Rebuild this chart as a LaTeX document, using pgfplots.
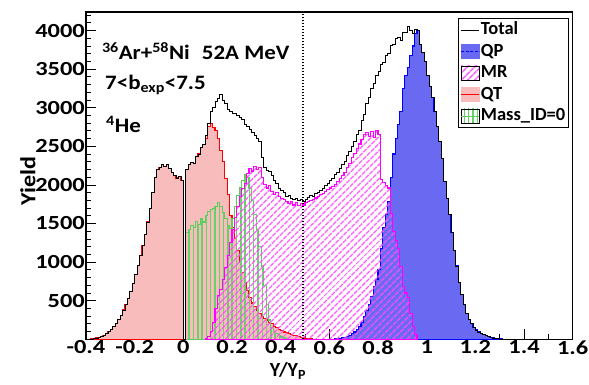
\documentclass[border=0pt]{standalone}
\usepackage{fontspec}
\setmainfont{Carlito}
\newfontfamily\tickfont{Carlito}[FakeStretch=1.22]
\newfontfamily\annfont{Carlito}[FakeStretch=1.12]
\usepackage{pgfplots}
\pgfplotsset{compat=1.18}
\usetikzlibrary{patterns.meta}
\definecolor{qpfill}{RGB}{105,105,242}
\definecolor{qtfill}{RGB}{248,188,188}
\definecolor{mrline}{RGB}{255,0,255}
\definecolor{mrhatch}{RGB}{255,70,255}
\definecolor{grline}{RGB}{90,205,90}
\definecolor{grhatch}{RGB}{100,210,100}
\begin{document}
\begin{tikzpicture}
\useasboundingbox (-86bp,-45.7bp) rectangle (503bp,339.3bp);
\begin{axis}[
  at={(0,0)}, anchor=south west,
  scale only axis, width=486.7bp, height=327.3bp,
  xmin=-0.4, xmax=1.6, ymin=0, ymax=4240,
  clip mode=individual,
  xtick={-0.4,-0.2,0,0.2,0.4,0.6,0.8,1,1.2,1.4,1.6},
  xticklabels={-0.4,-0.2,0,0.2,0.4,0.6,0.8,1,1.2,1.4,1.6},
  minor xtick={-0.3,-0.1,0.1,0.3,0.5,0.7,0.9,1.1,1.3,1.5},
  ytick={500,1000,1500,2000,2500,3000,3500,4000},
  yticklabels={500,1000,1500,2000,2500,3000,3500,4000},
  minor ytick={100,200,...,4200},
  tick align=inside, tick pos=left,
  major tick length=10bp, minor tick length=5bp,
  every tick/.style={black, line width=0.8bp},
  axis line style={line width=1.2bp},
  ticklabel style={font=\tickfont\bfseries\fontsize{20bp}{21bp}\selectfont, inner sep=1bp},
  legend style={at={(0.9918,0.9807)}, anchor=north east,
    draw=black, line width=0.8bp,
    font=\bfseries\fontsize{18.5bp}{22bp}\selectfont,
    inner xsep=2bp, inner ysep=2bp, row sep=3bp,
    nodes={inner sep=1bp, text height=13bp, text depth=3.5bp}},
  legend cell align=left,
]
% QT
\addplot[const plot mark left, draw=red, line width=1.1bp, fill=qtfill, forget plot] coordinates {
(-0.40,0)(-0.39,3)(-0.38,5)(-0.37,10)(-0.36,18)(-0.35,28)(-0.34,40)(-0.33,55)(-0.32,75)(-0.31,100)(-0.30,130)(-0.29,165)(-0.28,205)(-0.27,255)(-0.26,310)(-0.25,380)(-0.24,450)(-0.23,530)(-0.22,620)(-0.21,720)(-0.20,840)(-0.19,960)(-0.18,1090)(-0.17,1220)(-0.16,1360)(-0.15,1520)(-0.14,1690)(-0.13,1900)(-0.12,2100)(-0.11,2200)(-0.10,2230)(-0.09,2260)(-0.08,2240)(-0.07,2270)(-0.06,2210)(-0.05,2160)(-0.04,2120)(-0.03,2090)(-0.02,2110)(-0.01,2060)(0.000,0)(0.008,2200)(0.02,2260)(0.03,2290)(0.04,2280)(0.05,2370)(0.06,2400)(0.07,2480)(0.08,2520)(0.09,2600)(0.10,2760)(0.11,2800)(0.12,2740)(0.13,2700)(0.14,2600)(0.15,2450)(0.16,2300)(0.17,2080)(0.18,1880)(0.19,1600)(0.20,1450)(0.21,1300)(0.22,1150)(0.23,1000)(0.24,870)(0.25,740)(0.26,630)(0.27,540)(0.28,470)(0.29,420)(0.30,380)(0.31,340)(0.32,300)(0.33,270)(0.34,250)(0.35,220)(0.36,200)(0.37,170)(0.38,150)(0.39,125)(0.40,110)(0.41,95)(0.42,85)(0.43,75)(0.44,65)(0.45,55)(0.46,45)(0.47,35)(0.48,28)(0.49,20)(0.50,15)(0.51,10)(0.52,5)(0.53,0)
} \closedcycle;
% QP
\addplot[const plot mark left, draw=blue, line width=1.1bp, fill=qpfill, forget plot] coordinates {
(0.62,5)(0.63,8)(0.64,12)(0.65,18)(0.66,25)(0.67,35)(0.68,50)(0.69,70)(0.70,95)(0.71,125)(0.72,165)(0.73,220)(0.74,290)(0.75,370)(0.76,450)(0.77,560)(0.78,680)(0.79,780)(0.80,900)(0.81,1180)(0.82,1450)(0.83,1620)(0.84,1780)(0.85,2100)(0.86,2400)(0.87,2600)(0.88,2780)(0.89,2950)(0.90,3250)(0.91,3420)(0.92,3520)(0.93,3680)(0.94,3800)(0.95,3960)(0.96,4000)(0.97,3820)(0.98,3720)(0.99,3600)(1.00,3420)(1.01,3280)(1.02,3130)(1.03,2950)(1.04,2760)(1.05,2560)(1.06,2340)(1.07,2050)(1.08,1820)(1.09,1620)(1.10,1380)(1.11,1150)(1.12,950)(1.13,740)(1.14,580)(1.15,450)(1.16,340)(1.17,260)(1.18,200)(1.19,150)(1.20,120)(1.21,95)(1.22,75)(1.23,60)(1.24,45)(1.25,35)(1.26,25)(1.27,18)(1.28,12)(1.29,8)(1.30,4)(1.31,0)
} \closedcycle;
% Mass_ID=0
\addplot[const plot mark left, draw=grline, line width=1.1bp, pattern={Lines[angle=90,distance=4.3bp,line width=1.5bp]}, pattern color=grhatch, forget plot] coordinates {
(0.008,1380)(0.02,1420)(0.03,1470)(0.04,1450)(0.05,1530)(0.06,1490)(0.07,1560)(0.08,1520)(0.09,1600)(0.10,1650)(0.11,1680)(0.12,1700)(0.13,1720)(0.14,1770)(0.15,1720)(0.16,1640)(0.17,1560)(0.18,1480)(0.19,1440)(0.20,1560)(0.21,1720)(0.22,1860)(0.23,1970)(0.24,2060)(0.25,2140)(0.26,2100)(0.27,1950)(0.28,1800)(0.29,1620)(0.30,1420)(0.31,1200)(0.32,950)(0.33,700)(0.34,450)(0.35,250)(0.36,150)(0.37,100)(0.38,70)(0.39,50)(0.40,30)(0.41,20)(0.42,10)(0.43,0)
} \closedcycle;
% MR
\addplot[const plot mark left, draw=mrline, line width=1.1bp, pattern={Lines[angle=45,distance=5.2bp,line width=1.6bp]}, pattern color=mrhatch, forget plot] coordinates {
(0.09,10)(0.10,40)(0.11,100)(0.12,220)(0.13,400)(0.14,570)(0.15,650)(0.16,780)(0.17,930)(0.18,1080)(0.19,1250)(0.20,1420)(0.21,1580)(0.22,1720)(0.23,1850)(0.24,1950)(0.25,2020)(0.26,2150)(0.27,2210)(0.28,2180)(0.29,2240)(0.30,2200)(0.31,2230)(0.32,2100)(0.33,2000)(0.34,1960)(0.35,1990)(0.36,1920)(0.37,1870)(0.38,1900)(0.39,1850)(0.40,1820)(0.41,1810)(0.42,1790)(0.43,1760)(0.44,1780)(0.45,1740)(0.46,1770)(0.47,1730)(0.48,1760)(0.49,1740)(0.50,1770)(0.51,1790)(0.52,1800)(0.53,1810)(0.54,1830)(0.55,1850)(0.56,1870)(0.57,1890)(0.58,1920)(0.59,1940)(0.60,1960)(0.61,1980)(0.62,2000)(0.63,2040)(0.64,2080)(0.65,2120)(0.66,2160)(0.67,2220)(0.68,2280)(0.69,2350)(0.70,2410)(0.71,2470)(0.72,2530)(0.73,2590)(0.74,2650)(0.75,2680)(0.76,2630)(0.77,2690)(0.78,2620)(0.79,2700)(0.80,2650)(0.81,2070)(0.82,2030)(0.83,1990)(0.84,1960)(0.85,1630)(0.86,1400)(0.87,1280)(0.88,1180)(0.89,940)(0.90,680)(0.91,600)(0.92,540)(0.93,340)(0.94,170)(0.95,60)(0.96,0)
} \closedcycle;
% Total
\addplot[const plot mark left, draw=black, line width=0.8bp, forget plot] coordinates {
(-0.40,0)(-0.39,3)(-0.38,5)(-0.37,10)(-0.36,18)(-0.35,28)(-0.34,40)(-0.33,55)(-0.32,75)(-0.31,100)(-0.30,130)(-0.29,165)(-0.28,205)(-0.27,255)(-0.26,310)(-0.25,380)(-0.24,450)(-0.23,530)(-0.22,620)(-0.21,720)(-0.20,840)(-0.19,960)(-0.18,1090)(-0.17,1220)(-0.16,1360)(-0.15,1520)(-0.14,1690)(-0.13,1900)(-0.12,2100)(-0.11,2200)(-0.10,2230)(-0.09,2260)(-0.08,2240)(-0.07,2270)(-0.06,2210)(-0.05,2160)(-0.04,2120)(-0.03,2090)(-0.02,2110)(-0.01,2060)(0.000,0)(0.008,2200)(0.02,2260)(0.03,2290)(0.04,2280)(0.05,2370)(0.06,2400)(0.07,2480)(0.08,2520)(0.09,2640)(0.10,2800)(0.11,2950)(0.12,3000)(0.13,3080)(0.14,3120)(0.15,3170)(0.16,3090)(0.17,3060)(0.18,2980)(0.19,2950)(0.20,2930)(0.21,2920)(0.22,2900)(0.23,2880)(0.24,2850)(0.25,2790)(0.26,2760)(0.27,2720)(0.28,2680)(0.29,2640)(0.30,2600)(0.31,2560)(0.32,2360)(0.33,2230)(0.34,2190)(0.35,2170)(0.36,2120)(0.37,2060)(0.38,2020)(0.39,1960)(0.40,1930)(0.41,1900)(0.42,1850)(0.43,1860)(0.44,1830)(0.45,1810)(0.46,1830)(0.47,1800)(0.48,1810)(0.49,1790)(0.50,1810)(0.51,1840)(0.52,1860)(0.53,1850)(0.54,1890)(0.55,1900)(0.56,1930)(0.57,1950)(0.58,2000)(0.59,2020)(0.60,2060)(0.61,2080)(0.62,2130)(0.63,2160)(0.64,2220)(0.65,2260)(0.66,2300)(0.67,2380)(0.68,2430)(0.69,2500)(0.70,2560)(0.71,2660)(0.72,2700)(0.73,2830)(0.74,2910)(0.75,3060)(0.76,3130)(0.77,3250)(0.78,3320)(0.79,3420)(0.80,3470)(0.81,3560)(0.82,3590)(0.83,3680)(0.84,3700)(0.85,3810)(0.86,3820)(0.87,3900)(0.88,3910)(0.89,3870)(0.90,3970)(0.91,3980)(0.92,4050)(0.93,4000)(0.94,3960)(0.95,4020)(0.96,4000)(0.97,3820)(0.98,3720)(0.99,3600)(1.00,3420)(1.01,3280)(1.02,3130)(1.03,2950)(1.04,2760)(1.05,2560)(1.06,2340)(1.07,2050)(1.08,1820)(1.09,1620)(1.10,1380)(1.11,1150)(1.12,950)(1.13,740)(1.14,580)(1.15,450)(1.16,340)(1.17,260)(1.18,200)(1.19,150)(1.20,120)(1.21,95)(1.22,75)(1.23,60)(1.24,45)(1.25,35)(1.26,25)(1.27,18)(1.28,12)(1.29,8)(1.30,4)(1.31,0)
};
% dotted separator
\addplot[black, line width=1.5bp, dash pattern=on 1.5bp off 1.5bp, forget plot] coordinates {(0.492,0)(0.492,4240)};
% legend
\addlegendimage{legend image code/.code={\draw[black, line width=0.8bp] (0bp,0bp) -- (18bp,0bp);}}
\addlegendentry{Total}
\addlegendimage{legend image code/.code={\fill[qpfill] (0bp,-7bp) rectangle (18bp,7bp); \draw[blue, line width=1bp, dash pattern=on 3bp off 1.5bp] (0bp,0bp) -- (18bp,0bp);}}
\addlegendentry{QP}
\addlegendimage{legend image code/.code={\fill[pattern={Lines[angle=45,distance=5.2bp,line width=1.6bp]}, pattern color=mrhatch] (0bp,-7bp) rectangle (18bp,7bp);}}
\addlegendentry{MR}
\addlegendimage{legend image code/.code={\fill[qtfill] (0bp,-7bp) rectangle (18bp,7bp); \draw[red, line width=1bp] (0bp,0bp) -- (18bp,0bp);}}
\addlegendentry{QT}
\addlegendimage{legend image code/.code={\fill[pattern={Lines[angle=90,distance=4.3bp,line width=1.5bp]}, pattern color=grhatch] (0bp,-7bp) rectangle (18bp,7bp); \draw[grline, line width=0.8bp] (0bp,0bp) -- (18bp,0bp);}}
\addlegendentry{Mass\_ID=0}
% annotations
\node[anchor=base west, font=\annfont\bfseries\fontsize{20.5bp}{22bp}\selectfont, inner sep=0pt] at (axis cs:-0.335,3620) {\textsuperscript{36}Ar+\textsuperscript{58}Ni\hspace{12bp}52A MeV};
\node[anchor=base west, font=\annfont\bfseries\fontsize{20.5bp}{22bp}\selectfont, inner sep=0pt] at (axis cs:-0.322,3231) {7<b\textsubscript{exp}<7.5};
\node[anchor=base west, font=\annfont\bfseries\fontsize{20.5bp}{22bp}\selectfont, inner sep=0pt] at (axis cs:-0.318,2674) {\textsuperscript{4}He};
\node[anchor=base, font=\bfseries\fontsize{20bp}{22bp}\selectfont, inner sep=0pt, yshift=-37bp] at (axis cs:0.43,0) {Y/Y\textsubscript{P}};
\node[rotate=90, font=\annfont\bfseries\fontsize{21.5bp}{22bp}\selectfont, inner sep=0pt] at (axis cs:-0.639,2052) {Yield};
\end{axis}
\end{tikzpicture}
\end{document}
